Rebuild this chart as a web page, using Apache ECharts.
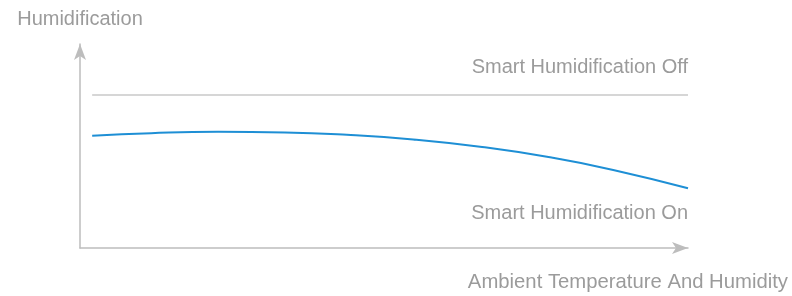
<!DOCTYPE html>
<html>
<head>
<meta charset="utf-8">
<script src="https://cdn.jsdelivr.net/npm/echarts@6/dist/echarts.min.js"></script>
<style>
  html, body { margin: 0; padding: 0; background: #fff; }
  #chart { width: 792px; height: 296px; }
</style>
</head>
<body>
<div id="chart"></div>
<script>
// curve (x: 0..100 along the axis, y: 0..100 up the axis)
var curveX = [2, 11.7, 22.7, 33.7, 43.9, 54.8, 65.8, 76.8, 87.7, 100]
var curveY = [55.05, 56.28, 56.93, 56.67, 55.52, 53.24, 49.66, 44.71, 38.28, 29.26]
var offX = [2, 100]
var offY = [75, 75]

var yName = 'Humidification'
var xName = 'Ambient Temperature And Humidity'
var offLabel = 'Smart Humidification Off'
var onLabel = 'Smart Humidification On'

var gray = '#9b9b9b'
var font = 'Liberation Sans, Arial, sans-serif'

var chart = echarts.init(document.getElementById('chart'))
var option = {
  animation: false,
  grid: { left: 80, right: 104, top: 44, bottom: 48 },
  xAxis: {
    type: 'value',
    min: 0,
    max: 100,
    axisLine: {
      show: true,
      symbol: ['none', 'arrow'],
      symbolSize: [9, 16],
      lineStyle: { color: '#bdbdbd', width: 1.5 }
    },
    axisTick: { show: false },
    axisLabel: { show: false },
    splitLine: { show: false }
  },
  yAxis: {
    type: 'value',
    min: 0,
    max: 100,
    name: yName,
    nameLocation: 'end',
    nameGap: 15,
    nameTextStyle: { color: gray, fontSize: 20, fontFamily: font },
    axisLine: {
      show: true,
      symbol: ['none', 'arrow'],
      symbolSize: [9, 16],
      lineStyle: { color: '#bdbdbd', width: 1.5 }
    },
    axisTick: { show: false },
    axisLabel: { show: false },
    splitLine: { show: false }
  },
  graphic: [
    { type: 'text', right: 104, top: 57, style: { text: offLabel, fill: gray, font: '20px ' + font } },
    { type: 'text', right: 104, top: 203, style: { text: onLabel, fill: gray, font: '20px ' + font } },
    { type: 'text', right: 4, top: 272, style: { text: xName, fill: gray, font: '20.3px ' + font } }
  ],
  series: [
    {
      type: 'line',
      data: offX.map(function (x, i) { return [x, offY[i]] }),
      symbol: 'none',
      lineStyle: { color: '#c8c8c8', width: 1.5 }
    },
    {
      type: 'line',
      data: curveX.map(function (x, i) { return [x, curveY[i]] }),
      smooth: true,
      symbol: 'none',
      lineStyle: { color: '#1e8fd5', width: 2 }
    }
  ]
}
chart.setOption(option)
</script>
</body>
</html>
